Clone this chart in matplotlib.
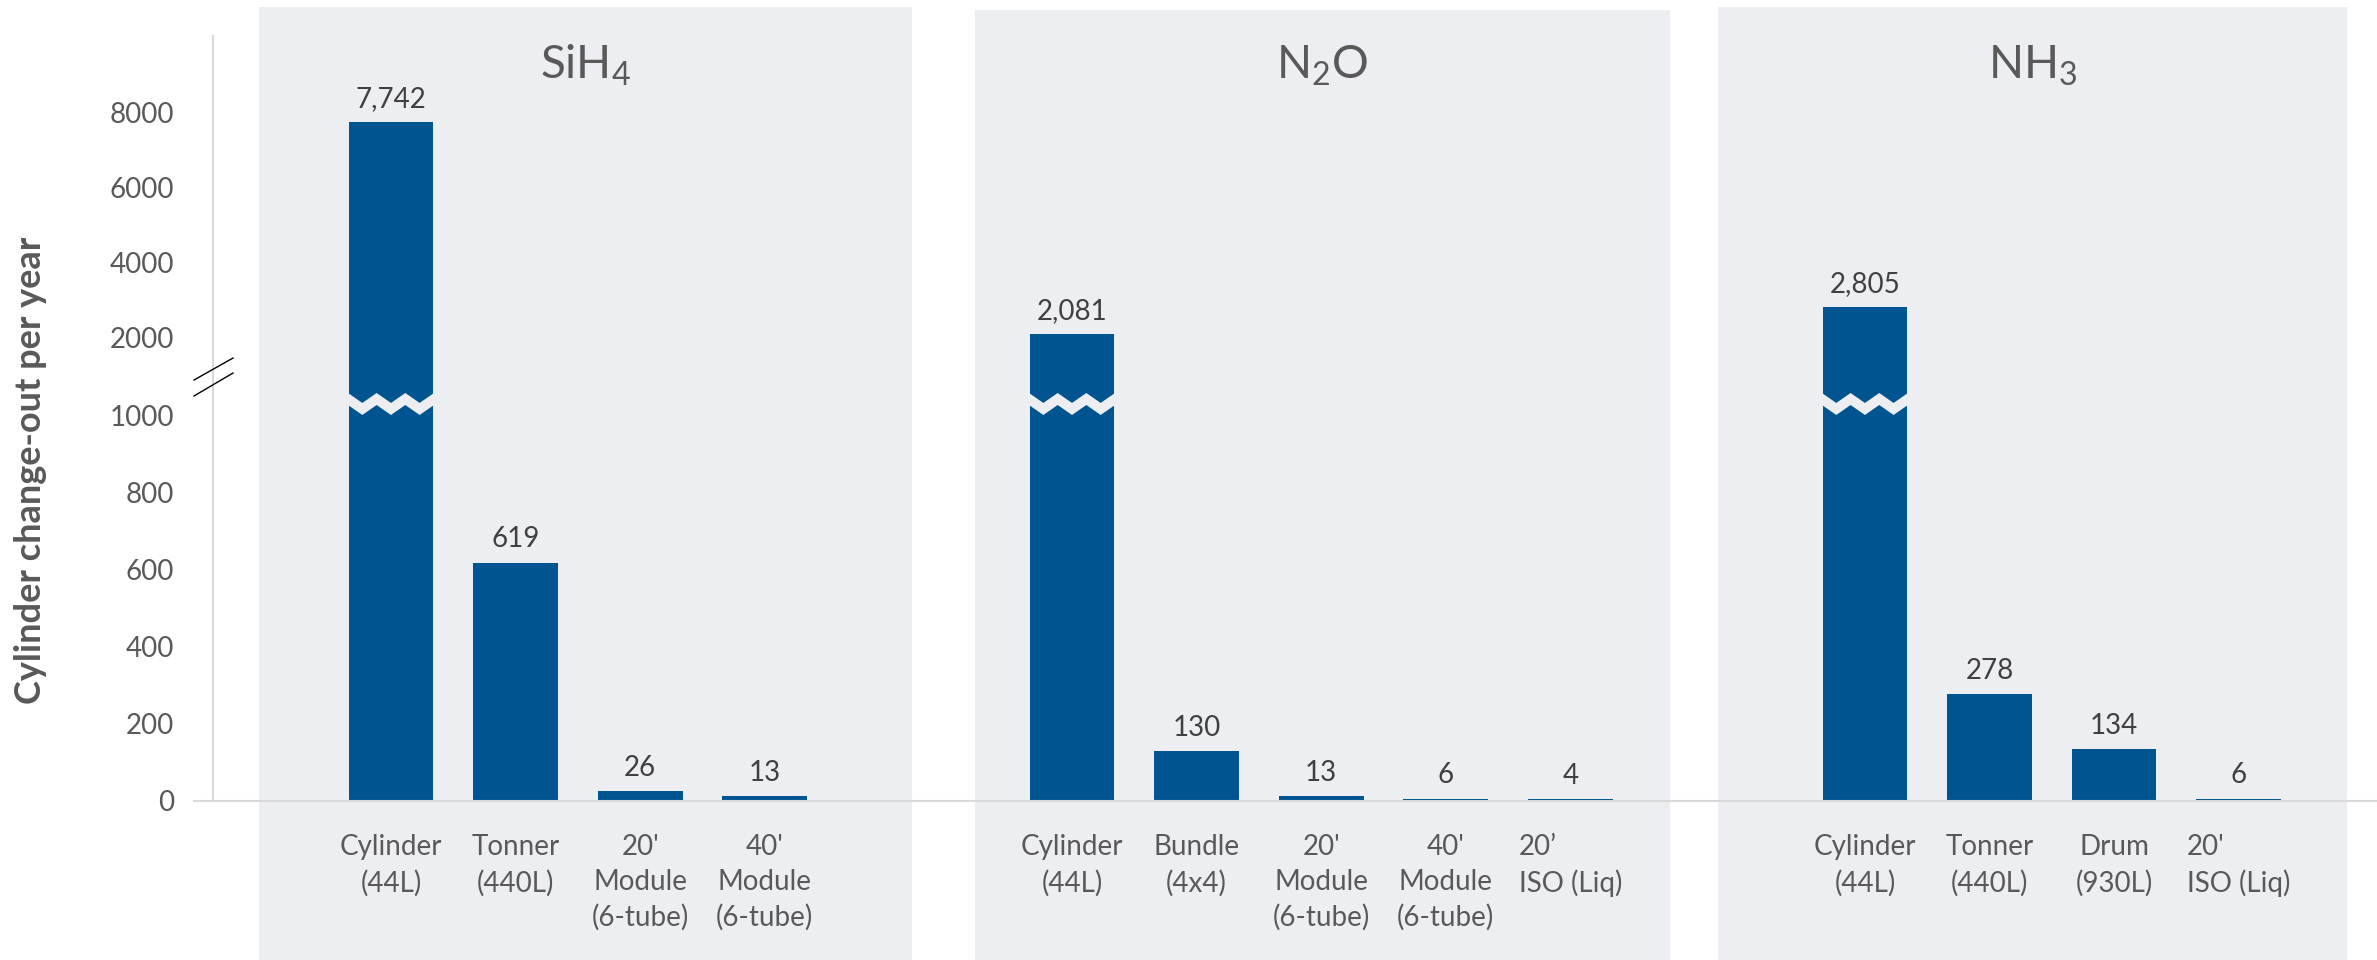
import numpy as np
import matplotlib
matplotlib.use("Agg")
import matplotlib.pyplot as plt
from matplotlib import transforms

plt.rcParams['font.family'] = ['Lato', 'DejaVu Sans']

# data
groups = ['SiH$_\\mathregular{4}$', 'N$_\\mathregular{2}$O', 'NH$_\\mathregular{3}$']
sih4_labels = ["Cylinder\n(44L)", "Tonner\n(440L)", "20'\nModule\n(6-tube)", "40'\nModule\n(6-tube)"]
sih4_values = [7742, 619, 26, 13]
n2o_labels = ["Cylinder\n(44L)", "Bundle\n(4x4)", "20'\nModule\n(6-tube)", "40'\nModule\n(6-tube)", "20\u2019\nISO (Liq)"]
n2o_values = [2081, 130, 13, 6, 4]
nh3_labels = ["Cylinder\n(44L)", "Tonner\n(440L)", "Drum\n(930L)", "20'\nISO (Liq)"]
nh3_values = [2805, 278, 134, 6]
yticks = [0, 200, 400, 600, 800, 1000, 2000, 4000, 6000, 8000]

BAR = '#00548F'
PANEL = '#EDEEF2'
GRID = '#D9D9D9'
TXT = '#595959'

# broken axis: 0-1000 linear, 1000-2000 squeezed, >2000 at ~1/10 scale
F_MID = 1204.0
B = 0.0975

def fwd(v):
    v = np.asarray(v, dtype=float)
    return np.where(v <= 1000, v,
                    np.where(v <= 2000, 1000 + (v - 1000) * (F_MID - 1000) / 1000,
                             F_MID + (v - 2000) * B))

def inv(f):
    f = np.asarray(f, dtype=float)
    return np.where(f <= 1000, f,
                    np.where(f <= F_MID, 1000 + (f - 1000) * 1000 / (F_MID - 1000),
                             2000 + (f - F_MID) / B))

fig = plt.figure(figsize=(23.77, 9.6), dpi=100)
ax = fig.add_axes([194 / 2377, 0, 1 - 194 / 2377, 1])
ax.set_facecolor('none')
ax.set_yscale('function', functions=(fwd, inv))
ax.set_xlim(-1.581, 15.94)
ax.set_ylim(-413, 10990)

group_start = [0.0, 5.466, 11.83]
all_vals = [sih4_values, n2o_values, nh3_values]
all_labs = [sih4_labels, n2o_labels, nh3_labels]
panels = [(-1.059, 4.181, 7), (4.687, 10.265, 10), (10.650, 15.698, 7)]
tr = transforms.blended_transform_factory(ax.transData, ax.transAxes)

for g, (start, vals, lb) in enumerate(zip(group_start, all_vals, all_labs)):
    pos = start + np.arange(len(vals))
    x0, x1, top = panels[g]
    ax.axvspan(x0, x1, ymin=0, ymax=1 - top / 960, color=PANEL, lw=0, zorder=0)
    ax.text((x0 + x1) / 2, 1 - 79 / 960, groups[g], transform=tr, ha='center',
            va='baseline', fontsize=33, color=TXT)
    ax.bar(pos, vals, width=0.68, color=BAR, zorder=2)
    for x, v, name in zip(pos, vals, lb):
        ax.annotate(f'{v:,}', (x, v), xytext=(0, 11), textcoords='offset points',
                    ha='center', va='baseline', fontsize=20, color='#404040')
        ax.annotate(name, (x, 0), xytext=(0, -24), textcoords='offset points',
                    ha='center', va='top', fontsize=20, color=TXT, linespacing=1.42,
                    multialignment='left' if 'ISO' in name else 'center')
        if v > 2000:
            # zigzag break on tall bars
            zx = np.linspace(x - 0.345, x + 0.345, 7)
            ztop = np.where(np.arange(7) % 2 == 0, 1293, 1166)
            ax.fill(np.r_[zx, zx[::-1]], np.r_[ztop, (ztop - 153)[::-1]],
                    color=PANEL, lw=0, zorder=3)

ax.set_xticks([])
ax.set_yticks(yticks, labels=[str(t) for t in yticks])
ax.tick_params(axis='y', length=0, pad=28, labelsize=20, labelcolor=TXT)
ax.yaxis.set_minor_locator(matplotlib.ticker.NullLocator())

for s in ['top', 'right']:
    ax.spines[s].set_visible(False)
ax.spines['bottom'].set_position(('data', 0))
ax.spines['bottom'].set_color(GRID)
ax.spines['bottom'].set_linewidth(1.5)
ax.spines['left'].set_position(('data', -1.4286))
ax.spines['left'].set_bounds(0, 10030)
ax.spines['left'].set_color(GRID)
ax.spines['left'].set_linewidth(1.5)

# axis break marks
ax.plot([-1.581, -1.268], [1458, 1738], color='black', lw=1, clip_on=False, zorder=4)
ax.plot([-1.581, -1.268], [1255, 1547], color='black', lw=1, clip_on=False, zorder=4)

fig.text(31 / 2377, 1 - 470 / 960, 'Cylinder change-out per year', rotation=90,
         ha='center', va='center', fontsize=26, fontweight='bold', color=TXT)

fig.savefig('out.png', dpi=100)
